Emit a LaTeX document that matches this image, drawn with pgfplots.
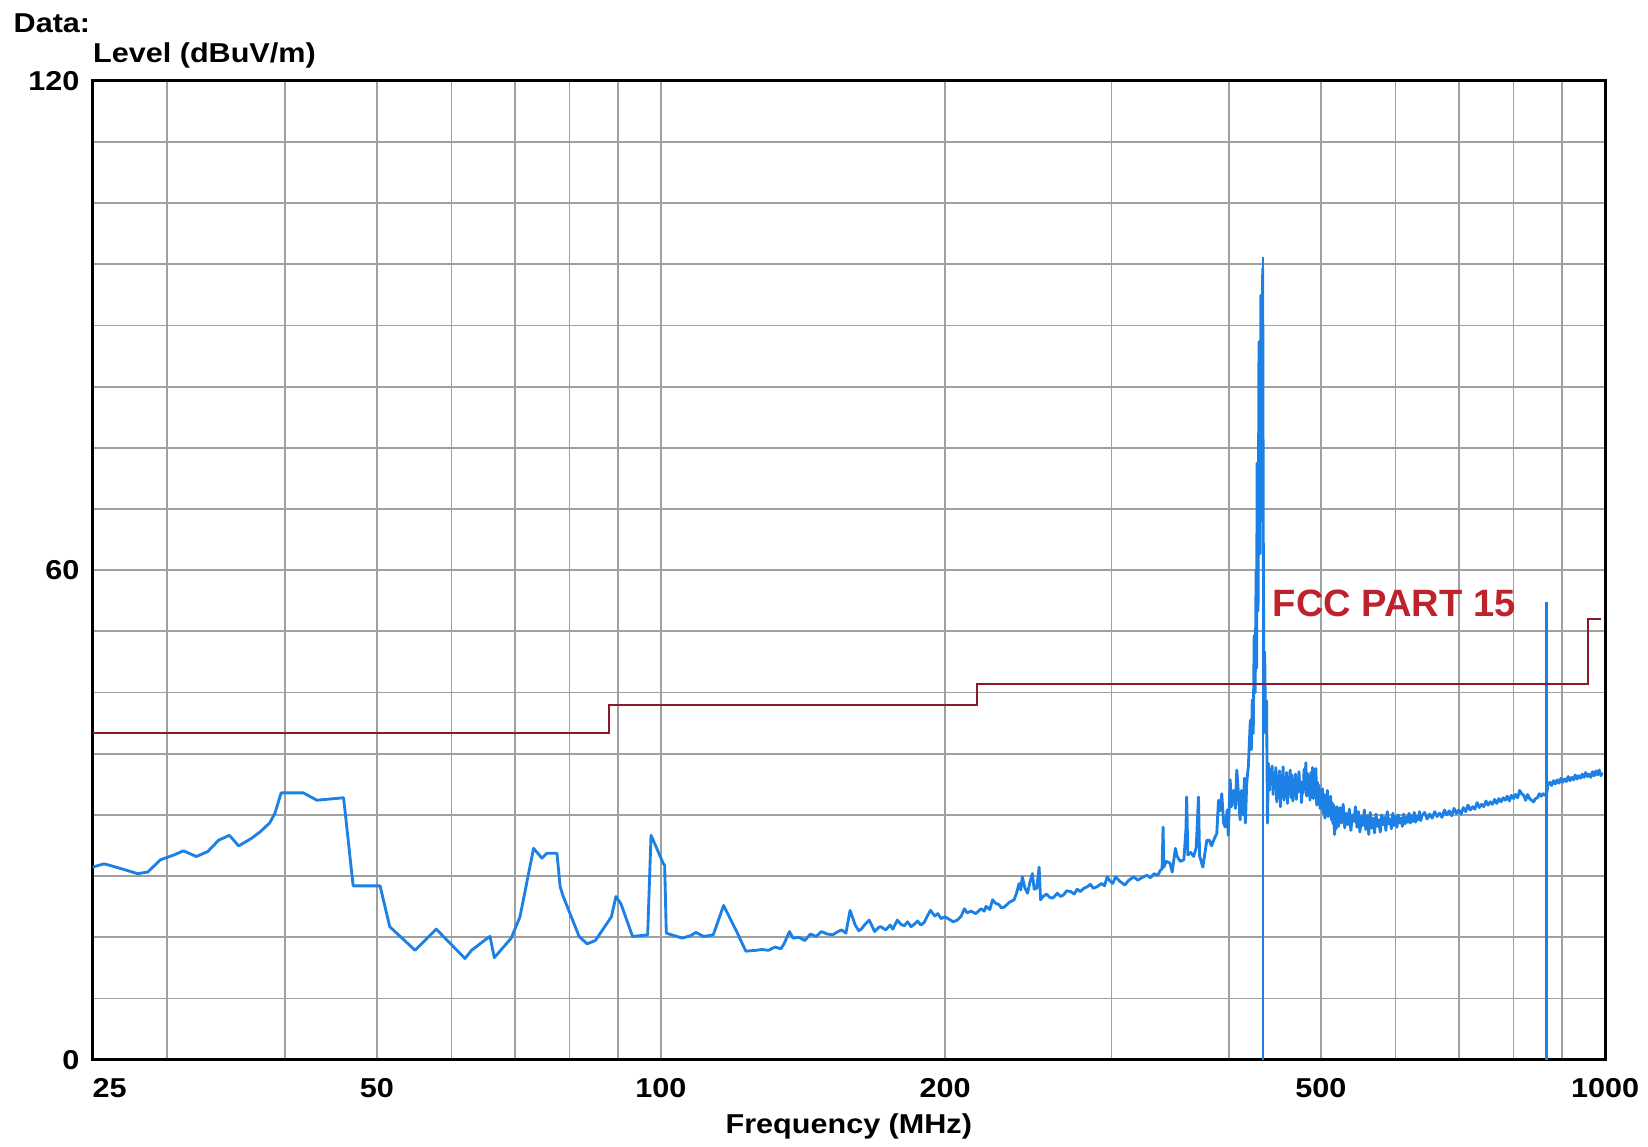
\documentclass[border=0pt]{standalone}
\usepackage{pgfplots}
\pgfplotsset{compat=1.18}
\usepackage{fontspec}
\setmainfont{Liberation Sans}
\newfontfamily\chartfont{Liberation Sans}[FakeStretch=1.12]

\definecolor{gridgray}{RGB}{160,160,160}
\definecolor{trace}{RGB}{28,128,228}
\definecolor{limitred}{RGB}{140,25,45}
\definecolor{labelred}{RGB}{190,35,45}

\newcommand{\lbl}{\chartfont\bfseries\fontsize{9.1}{11}\selectfont}

\begin{document}
\begin{tikzpicture}
\begin{axis}[
    name=ax,
    scale only axis,
    width=504.1pt, height=326.3pt,
    xmode=log,
    xmin=25, xmax=1000, ymin=0, ymax=120,
    xtick={25,50,100,200,500,1000},
    xticklabels={\phantom{25}25,50,100,200,500,1000},
    minor xtick={30,40,60,70,80,90,300,400,600,700,800,900},
    ytick={0,60,120},
    yticklabels={0,60,120},
    minor ytick={7.5,15,...,112.5},
    grid=both,
    major grid style={line width=0.6pt, draw=gridgray},
    minor grid style={line width=0.6pt, draw=gridgray},
    major tick length=0pt, minor tick length=0pt,
    tick style={draw=none},
    axis line style={line width=1pt, black},
    ticklabel style={font=\lbl},
    xticklabel style={anchor=north, inner sep=0pt, yshift=-6pt},
    yticklabel style={anchor=east, inner sep=0pt, xshift=-4.2pt},
]

% measured level
\addplot[trace, line width=0.95pt, line join=round] coordinates {
(25.0,23.6) (25.7,24.0) (26.1,23.8) (27.0,23.3) (27.9,22.8) (28.6,23.0) (29.5,24.5)
(30.5,25.1) (31.2,25.6) (32.2,24.9) (33.1,25.5) (34.0,26.9) (34.9,27.5) (35.7,26.2)
(36.8,27.1) (37.6,27.9) (38.5,29.0) (39.0,30.2) (39.6,32.7) (41.8,32.7) (43.2,31.8)
(46.1,32.1) (46.3,30.2) (47.0,23.2) (47.2,21.3) (50.4,21.3) (51.6,16.3) (54.9,13.4)
(57.8,16.0) (62.0,12.4) (63.0,13.4) (65.5,14.9) (65.9,15.1) (66.6,12.5) (69.4,14.9)
(70.9,17.5) (73.3,25.9) (74.8,24.7) (75.7,25.3) (77.6,25.3) (78.2,21.2) (78.8,20.0)
(81.9,15.1) (83.5,14.2) (85.2,14.6) (88.6,17.5) (89.6,20.0) (90.7,19.1) (93.3,15.1)
(96.8,15.3) (97.2,21.4) (97.6,27.5) (98.8,26.1) (100.5,24.1) (100.9,23.8) (101.3,15.5)
(105.3,14.9) (107.5,15.2) (108.9,15.6) (111,15.1) (113.6,15.3) (116.5,18.9) (120.5,15.5)
(121.5,14.6) (123,13.3) (126,13.4) (128,13.5) (130,13.4) (132,13.8) (134,13.6)
(135,14.2) (136.8,15.7) (138,14.9) (140,15.0) (142,14.6) (144,15.4) (146,15.1)
(147.9,15.7) (150,15.4) (152,15.3) (154,15.7) (155.4,15.9) (157,15.5) (158.6,18.3)
(160.6,16.5) (162,15.8) (163,16.0) (164.5,16.6) (166.2,17.1) (168.4,15.7) (170,16.2)
(171,16.3) (173,15.9) (174.9,16.5) (176,16.0) (178,17.1) (179.5,16.6) (181,16.4)
(182.5,16.9) (184,16.3) (185.5,16.6) (187,17.0) (188.5,16.5) (190,16.8) (191.5,17.6)
(193,18.3) (195,17.6) (196.5,17.9) (198,17.3) (200,17.5) (202,17.2) (204,16.9)
(206,17.1) (208,17.6) (209.6,18.5) (211,18.0) (213,18.2) (215.5,17.9) (218.3,18.5)
(220,18.2) (221,18.8) (223,18.4) (224.5,19.6) (226,19.2) (228,19.0) (229.5,18.6)
(231,18.7) (234,19.3) (236.6,19.6) (238,20.4) (239.5,21.6) (240.5,20.8) (241.4,22.4)
(243,21.0) (244.5,20.4) (246,21.8) (247.4,22.8) (248.5,20.9) (250,21.0) (251.5,23.6)
(252.4,19.6) (254,20.0) (256,20.3) (258,19.9) (260,19.8) (263,20.4) (265,20.0)
(267,20.2) (269,20.7) (271.6,20.6) (274,20.3) (276,20.9) (278,20.6) (280.5,21.0)
(283,21.2) (285,21.5) (287,21.0) (289.7,21.2) (293,21.6) (295,21.3) (296.9,22.4)
(299,21.9) (301,21.6) (303,22.4) (306.7,21.8) (310,21.4) (313,22.0) (316.8,22.4)
(320,22.0) (323,22.3) (327.2,22.6) (330,22.3) (333,22.8) (336,22.6) (338,23.2)
(339.5,23.4) (340.3,28.5) (341,23.6) (343,24.3) (346,24.1) (348,23.0) (350.7,25.9)
(352,25.0) (353.5,24.6) (355,24.3) (358,24.5) (359.8,28.1) (360.5,32.2) (361.5,25.1)
(364,25.4) (366.7,24.9) (369,26.0) (371,32.2) (372,25.0) (375,23.6) (378.7,26.9)
(381,26.9) (383,26.2) (386,27.2) (388,27.7) (389.6,31.8) (391,30.5) (392.7,32.6)
(394.5,29.0) (396,28.5) (398,30.6) (399,27.5) (400.8,34.3) (402,31.0) (404,33.0)
(406,30.8) (407.3,35.5) (408.5,33.5) (410.6,29.4) (412,33.0) (413.5,30.0) (415,34.5)
(416,29.0) (417.3,33.9) (419,36.0) (421,41.6) (422,38.0) (423,44.1) (424,40.0)
(425,52.0) (426,45.0) (427,60.0) (427.5,48.0) (428,73.1) (429,55.0) (430,88.0)
(431,62.0) (432,93.7) (433,72.0) (433.9,97.0) (434.5,65.0) (435,50.2) (435.5,44.0)
(436,50.0) (437,40.0) (438,44.0) (439,29.0) (440,36.3) (441,33.0) (442,35.6)
(443,34.2) (444,36.0) (445,32.5) (446,35.1) (447,33.4) (448,35.8) (449,31.6)
(450,34.7) (451,32.2) (452,35.4) (453,31.0) (454,34.8) (455,33.1) (456,35.9)
(457,31.8) (458,34.3) (459,32.5) (460,35.2) (461,31.4) (462,34.6) (463,33.0)
(464,35.5) (465,32.1) (466,34.9) (467,31.7) (468,33.8) (469,32.6) (470,35.0)
(471,31.9) (472,34.4) (473,32.8) (474,35.3) (475,33.2) (476,34.1) (477,31.5)
(478,33.9) (479,32.7) (480,35.6) (481,33.4) (482,36.4) (483,32.3) (484,35.1)
(485,33.0) (486,34.7) (487,31.8) (488,35.2) (489,32.9) (490,35.8) (491,32.0)
(492,34.5) (493,33.1) (494,35.7) (495,31.2) (496,34.0) (497,32.4) (498,33.6)
(499,30.8) (500,33.0) (501,31.1) (502,33.2) (503,30.2) (504,32.5) (505,29.6)
(506,32.0) (507,30.4) (508,33.0) (509,29.8) (510,31.7) (511,30.1) (512,32.3)
(513,29.4) (514,31.5) (515,28.9) (516,31.2) (517,27.6) (518,30.5) (519,28.3)
(520,31.0) (522,28.6) (524,30.9) (526,29.0) (528,31.3) (530,28.4) (532,30.2)
(534,28.8) (536,30.7) (538,28.1) (540,30.0) (542,29.2) (544,31.0) (546,28.5)
(548,30.4) (550,27.9) (552,29.8) (554,28.7) (556,30.6) (558,28.2) (560,29.9)
(562,27.6) (564,30.3) (566,28.4) (568,29.6) (570,27.8) (572,30.1) (574,28.6)
(576,29.4) (578,27.9) (580,30.0) (582,28.8) (584,29.7) (586,28.1) (588,30.4)
(590,28.9) (592,29.5) (594,28.3) (596,30.2) (598,28.7) (600,29.8) (602,28.5)
(604,30.0) (606,29.0) (608,29.6) (610,28.6) (612,30.1) (614,28.9) (616,29.7)
(618,29.1) (620,30.2) (622,29.0) (624,29.9) (626,29.2) (628,30.3) (630,29.1)
(632,29.8) (634,29.4) (636,30.4) (638,29.3) (640,29.9) (644,30.3) (648,29.5)
(652,30.1) (656,29.6) (660,30.4) (664,29.8) (668,30.2) (672,29.7) (676,30.6)
(680,30.0) (684,30.5) (688,29.9) (692,30.8) (696,30.2) (700,30.6) (704,30.1)
(708,30.9) (712,30.4) (716,31.2) (720,30.6) (724,31.0) (728,30.7) (732,31.5)
(736,30.9) (740,31.3) (744,31.0) (748,31.7) (752,31.2) (756,31.6) (760,31.3)
(764,31.9) (768,31.4) (772,32.0) (776,31.6) (780,32.1) (784,31.8) (788,32.3)
(792,31.7) (796,32.4) (800,32.0) (804,32.5) (808,32.1) (812,33.0) (816,32.6)
(820,32.4) (824,31.8) (828,32.5) (832,32.0) (836,31.8) (840,31.6) (844,32.0)
(848,32.1) (852,32.6) (856,32.3) (860,32.6) (864,32.4) (866,32.6) (868,32.8)
(870,33.7) (874,34.0) (878,33.6) (882,34.2) (886,33.8) (890,34.3) (894,33.9)
(898,34.5) (902,34.0) (906,34.4) (910,34.1) (914,34.7) (918,34.2) (922,34.6)
(926,34.3) (930,34.9) (934,34.4) (938,34.8) (942,34.5) (946,35.0) (950,34.6)
(954,35.2) (958,34.7) (962,35.0) (966,34.6) (970,35.3) (974,34.8) (978,35.4)
(982,34.9) (986,35.5) (990,34.8) (993,35.2)
};

% marker lines
\addplot[trace, line width=0.7pt] coordinates {(433.9,0) (433.9,98.4)};
\addplot[trace, line width=0.7pt] coordinates {(867,0) (867,56.1)};

% FCC Part 15 limit
\addplot[limitred, line width=0.7pt, const plot] coordinates {
(25,40) (88,43.5) (216,46) (960,54) (990,54)
};

\node[anchor=base west, inner sep=0pt, text=labelred,
      font=\bfseries\fontsize{12.7}{14}\selectfont] at (axis cs:444,54.3) {FCC PART 15};
\end{axis}

\node[anchor=base west, inner sep=0pt, font=\lbl] at ([xshift=-26.5pt,yshift=16.1pt]ax.north west) {Data:};
\node[anchor=base west, inner sep=0pt, font=\lbl] at ([yshift=6pt]ax.north west) {Level (dBuV/m)};
\node[anchor=base, inner sep=0pt, font=\lbl] at ([yshift=-24.67pt]ax.south) {Frequency (MHz)};

\pgfresetboundingbox
\path[use as bounding box] ([xshift=-30.87pt,yshift=-28.83pt]ax.south west)
    rectangle ([xshift=14.33pt,yshift=26.9pt]ax.north east);
\end{tikzpicture}
\end{document}
